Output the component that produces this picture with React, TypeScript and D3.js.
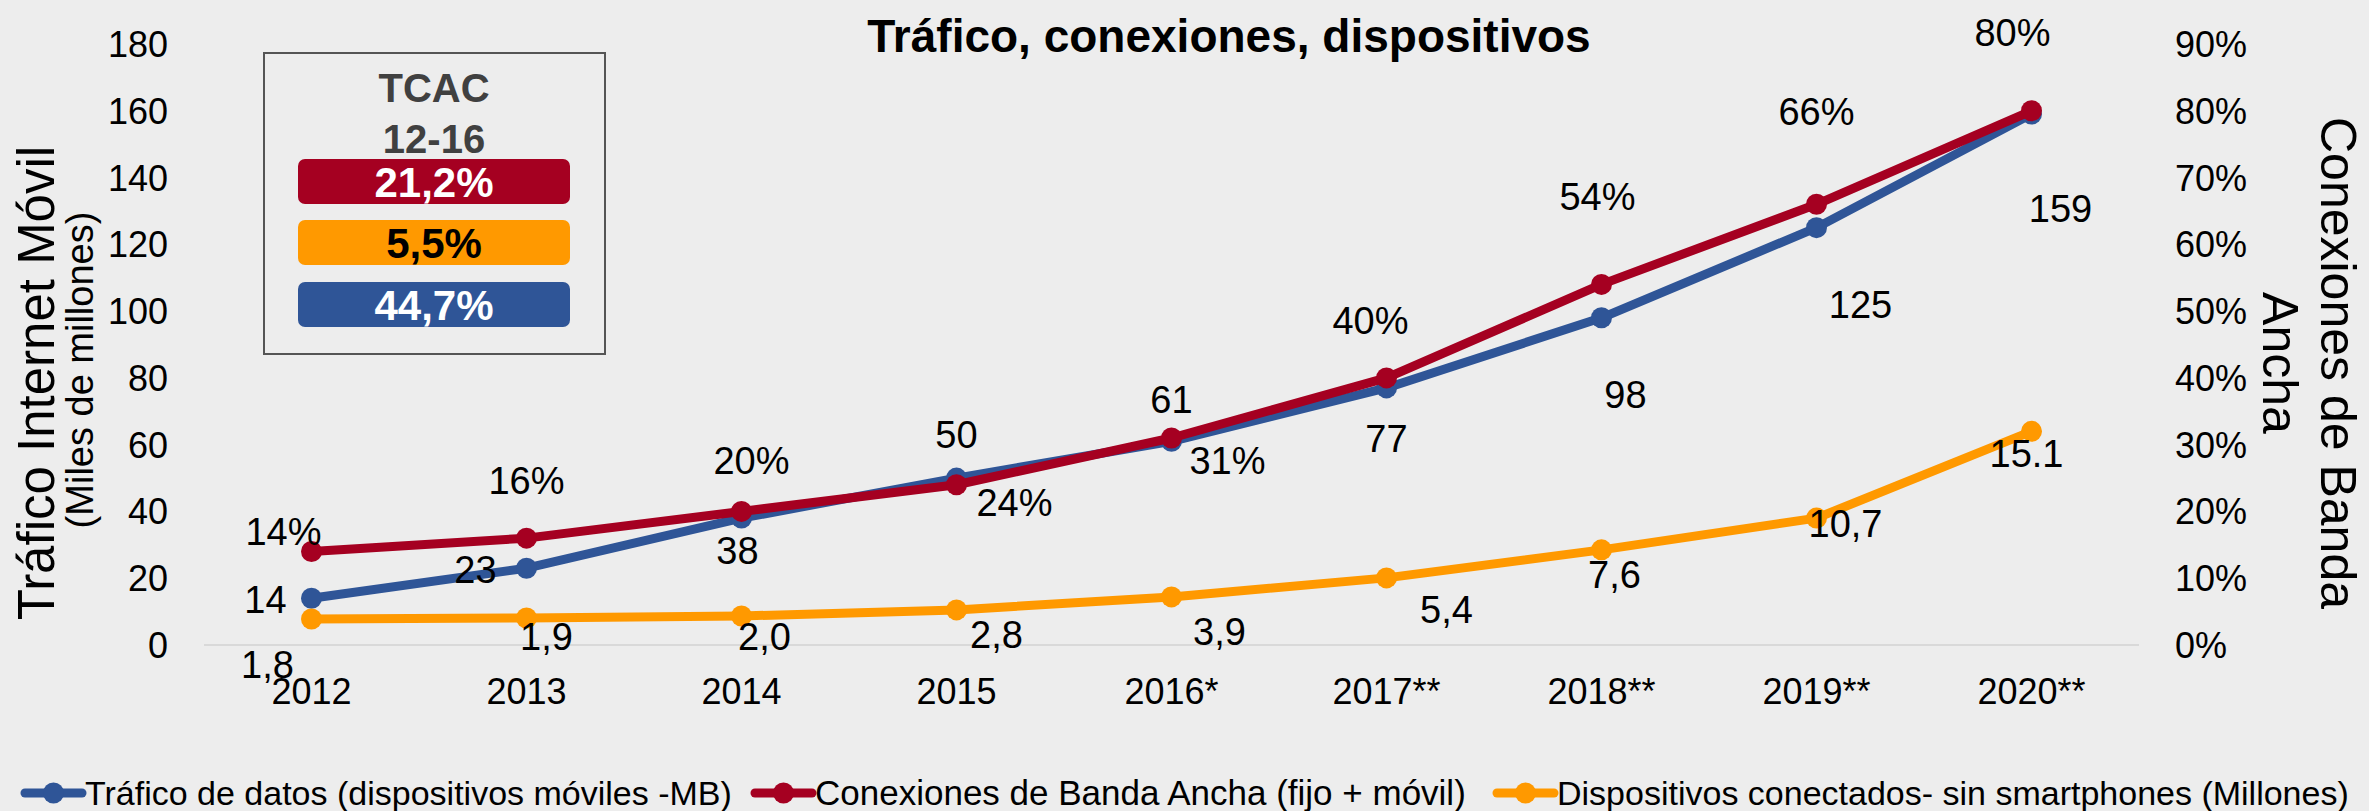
import React, { useEffect } from "react";
import * as d3 from "d3";

const years = ["2012", "2013", "2014", "2015", "2016*", "2017**", "2018**", "2019**", "2020**"];
const trafficValues = [14, 23, 38, 50, 61, 77, 98, 125, 159];
const broadbandValues = [14, 16, 20, 24, 31, 40, 54, 66, 80];
// orange series as drawn against the left axis
const deviceValues = [7.8, 8.1, 8.7, 10.5, 14.4, 20.1, 28.5, 38, 64];
const deviceLabels = ["1,8", "1,9", "2,0", "2,8", "3,9", "5,4", "7,6", "10,7", "15.1"];
const leftTicks = [0, 20, 40, 60, 80, 100, 120, 140, 160, 180];
const rightTicks = [0, 10, 20, 30, 40, 50, 60, 70, 80, 90];
const cagrLabels = ["21,2%", "5,5%", "44,7%"];
const legendLabels = [
  "Tráfico de datos (dispositivos móviles -MB)",
  "Conexiones de Banda Ancha (fijo + móvil)",
  "Dispositivos conectados- sin smartphones (Millones)",
];

// label nudges (dx, dy from the point), like the hand-placed labels of the original
const trafficNudge = [[-46, 15], [-51, 15], [-4, 46], [0, -30], [0, -28], [0, 64], [24, 90], [44, 90], [29, 108]];
const broadbandNudge = [[-28, -7], [0, -44], [10, -37], [58, 31], [56, 36], [-16, -44], [-4, -74], [0, -79], [-19, -65]];
const deviceNudge = [[-44, 59], [20, 32], [23, 34], [40, 38], [48, 48], [60, 45], [13, 38], [29, 19], [-5, 36]];

const BLUE = "#2F5597";
const RED = "#A50021";
const ORANGE = "#FF9900";
const FONT = "'Liberation Sans', Arial, sans-serif";

export default function App() {
  useEffect(() => {
    document.body.style.margin = "0";
  }, []);

  const width = 2369;
  const height = 811;
  const margin = { left: 204, right: 230, top: 44, bottom: 166 };

  const x = d3
    .scaleBand()
    .domain(years)
    .range([margin.left, width - margin.right]);
  const cx = (d: string) => (x(d) as number) + x.bandwidth() / 2;
  const y = d3
    .scaleLinear()
    .domain([0, 180])
    .range([height - margin.bottom, margin.top]);
  const y2 = d3
    .scaleLinear()
    .domain([0, 90])
    .range([height - margin.bottom, margin.top]);

  const lineGen = (vals: number[], scale: d3.ScaleLinear<number, number>) =>
    d3
      .line<number>()
      .x((_, i) => cx(years[i]))
      .y((d) => scale(d))(vals) as string;

  const series = [
    { vals: trafficValues, scale: y, color: BLUE, labels: trafficValues.map(String), nudge: trafficNudge },
    { vals: deviceValues, scale: y, color: ORANGE, labels: deviceLabels, nudge: deviceNudge },
    { vals: broadbandValues, scale: y2, color: RED, labels: broadbandValues.map((d) => d + "%"), nudge: broadbandNudge },
  ];

  const legendX = [25, 755, 1497];
  const legendColors = [BLUE, RED, ORANGE];
  const pillColors = [RED, ORANGE, BLUE];
  const pillText = ["#fff", "#000", "#fff"];
  const pillY = [159, 220, 282];

  return (
    <svg
      width={width}
      height={height}
      style={{ position: "absolute", left: 0, top: 0, display: "block" }}
      fontFamily={FONT}
    >
      <rect width={width} height={height} fill="#EDEDED" />

      {/* title */}
      <text x={1229} y={52} textAnchor="middle" fontSize={46} fontWeight="bold" fill="#000">
        Tráfico, conexiones, dispositivos
      </text>

      {/* baseline */}
      <line
        x1={margin.left}
        x2={width - margin.right}
        y1={y(0)}
        y2={y(0)}
        stroke="#D9D9D9"
        strokeWidth={2}
      />

      {/* left axis */}
      {leftTicks.map((t) => (
        <text key={"l" + t} x={168} y={y(t)} dy="0.36em" textAnchor="end" fontSize={36} fill="#000">
          {t}
        </text>
      ))}
      {/* right axis */}
      {rightTicks.map((t) => (
        <text key={"r" + t} x={2175} y={y2(t)} dy="0.36em" textAnchor="start" fontSize={36} fill="#000">
          {t + "%"}
        </text>
      ))}
      {/* x axis */}
      {years.map((yr) => (
        <text key={yr} x={cx(yr)} y={704} textAnchor="middle" fontSize={36} fill="#000">
          {yr}
        </text>
      ))}

      {/* axis titles */}
      <text transform="translate(54,383) rotate(-90)" textAnchor="middle" fontSize={51} fill="#000">
        Tráfico Internet Móvil
      </text>
      <text transform="translate(93,370) rotate(-90)" textAnchor="middle" fontSize={38} fill="#000">
        (Miles de millones)
      </text>
      <text transform="translate(2321,363) rotate(90)" textAnchor="middle" fontSize={50} fill="#000">
        Conexiones de Banda
      </text>
      <text transform="translate(2263,363) rotate(90)" textAnchor="middle" fontSize={50} fill="#000">
        Ancha
      </text>

      {/* CAGR box */}
      <rect x={264} y={53} width={341} height={301} fill="none" stroke="#555" strokeWidth={2} />
      <text x={434} y={102} textAnchor="middle" fontSize={40} fontWeight="bold" fill="#404040">
        TCAC
      </text>
      <text x={434} y={153} textAnchor="middle" fontSize={40} fontWeight="bold" fill="#404040">
        12-16
      </text>
      {cagrLabels.map((c, i) => (
        <g key={c}>
          <rect x={298} y={pillY[i]} width={272} height={45} rx={7} fill={pillColors[i]} />
          <text
            x={434}
            y={pillY[i] + 22.5}
            dy="0.36em"
            textAnchor="middle"
            fontSize={42}
            fontWeight="bold"
            fill={pillText[i]}
          >
            {c}
          </text>
        </g>
      ))}

      {/* lines */}
      {series.map((s, si) => (
        <g key={"s" + si}>
          <path d={lineGen(s.vals, s.scale)} fill="none" stroke={s.color} strokeWidth={9} strokeLinejoin="round" />
          {s.vals.map((v, i) => (
            <circle key={i} cx={cx(years[i])} cy={s.scale(v)} r={10.5} fill={s.color} />
          ))}
        </g>
      ))}

      {/* data labels */}
      {series.map((s, si) =>
        s.vals.map((v, i) => (
          <text
            key={"lb" + si + "-" + i}
            x={cx(years[i]) + s.nudge[i][0]}
            y={s.scale(v) + s.nudge[i][1]}
            textAnchor="middle"
            fontSize={38}
            fill="#000"
          >
            {s.labels[i]}
          </text>
        ))
      )}

      {/* legend */}
      {legendLabels.map((l, i) => (
        <g key={l} transform={`translate(${legendX[i]},793)`}>
          <line x1={0} x2={57} y1={0} y2={0} stroke={legendColors[i]} strokeWidth={9} strokeLinecap="round" />
          <circle cx={28.5} cy={0} r={10.5} fill={legendColors[i]} />
          <text x={60} y={12} fontSize={i === 1 ? 35 : 34} fill="#000">
            {l}
          </text>
        </g>
      ))}
    </svg>
  );
}
